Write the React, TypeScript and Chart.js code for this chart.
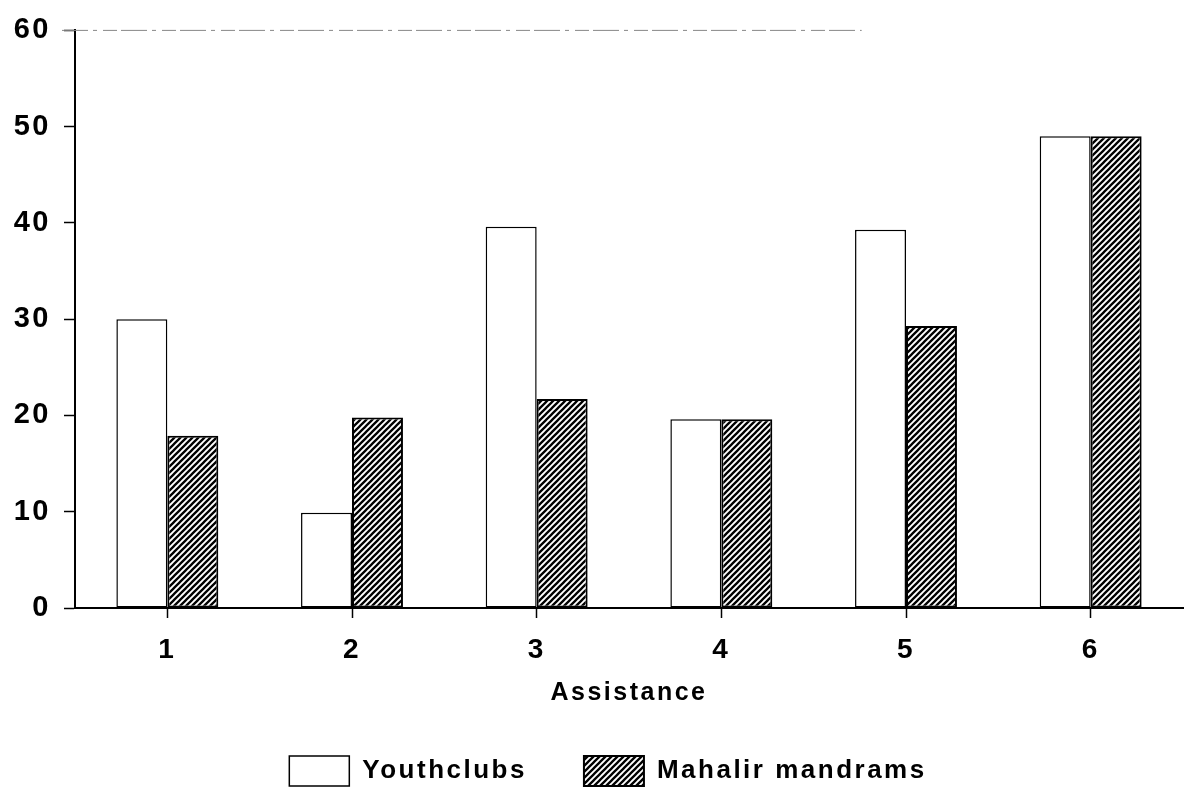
import React, { useEffect, useRef } from 'react';
import { Chart, registerables } from 'chart.js';

Chart.register(...registerables);

const categories = ['1', '2', '3', '4', '5', '6'];
const youthclubs = [30, 9.9, 39.6, 19.6, 39.3, 49];
const mahalirMandrams = [17.9, 19.8, 21.7, 19.6, 29.3, 49];
const yTicks = [0, 10, 20, 30, 40, 50, 60];
const seriesLabels = ['Youthclubs', 'Mahalir mandrams'];
const xTitle = 'Assistance';

const FONT = "'Liberation Sans', Arial, Helvetica, sans-serif";

function makeHatch(): CanvasPattern | string {
  const size = 6;
  const c = document.createElement('canvas');
  c.width = size;
  c.height = size;
  const g = c.getContext('2d');
  if (!g) return '#444';
  g.fillStyle = '#fff';
  g.fillRect(0, 0, size, size);
  g.strokeStyle = '#000';
  g.lineWidth = 2.3;
  g.beginPath();
  g.moveTo(0, size);
  g.lineTo(size, 0);
  g.moveTo(-size / 2, size / 2);
  g.lineTo(size / 2, -size / 2);
  g.moveTo(size / 2, size * 1.5);
  g.lineTo(size * 1.5, size / 2);
  g.stroke();
  return g.createPattern(c, 'repeat') || '#444';
}

const spacingPlugin = {
  id: 'letterSpacing',
  beforeLayout(chart: any) {
    chart.ctx.letterSpacing = '2.5px';
  },
  afterLayout(chart: any) {
    // shift the centred legend slightly left, as in the original layout
    if (chart.legend) chart.legend.right -= 42;
  },
  beforeDraw(chart: any) {
    chart.ctx.letterSpacing = '2.5px';
  },
};

const topLinePlugin = {
  id: 'topLine',
  afterDraw(chart: any) {
    const { ctx, chartArea, scales } = chart;
    const y = scales.y.getPixelForValue(yTicks[yTicks.length - 1]);
    ctx.save();
    ctx.strokeStyle = '#888';
    ctx.lineWidth = 1;
    ctx.setLineDash([26, 5, 4, 6, 14, 4]);
    ctx.beginPath();
    ctx.moveTo(chartArea.left - 13, y);
    ctx.lineTo(chartArea.left + (chartArea.right - chartArea.left) * 0.71, y);
    ctx.stroke();
    ctx.restore();
  },
};

export default function App() {
  const ref = useRef<HTMLCanvasElement | null>(null);

  useEffect(() => {
    if (!ref.current) return;
    const hatch = makeHatch();
    const chart = new Chart(ref.current, {
      type: 'bar',
      data: {
        labels: categories,
        datasets: [
          {
            label: seriesLabels[0],
            data: youthclubs,
            backgroundColor: '#ffffff',
            borderColor: '#000000',
            borderWidth: 1.5,
            borderSkipped: false,
            categoryPercentage: 0.552,
            barPercentage: 1.0,
          },
          {
            label: seriesLabels[1],
            data: mahalirMandrams,
            backgroundColor: hatch as any,
            borderColor: '#000000',
            borderWidth: 2,
            borderSkipped: false,
            categoryPercentage: 0.552,
            barPercentage: 1.0,
          },
        ],
      },
      options: {
        responsive: false,
        animation: false,
        devicePixelRatio: 1,
        layout: { padding: { top: 20, right: 1, left: 0, bottom: 0 } },
        plugins: {
          tooltip: { enabled: false },
          legend: {
            position: 'bottom',
            fullSize: false,
            maxHeight: 98,
            labels: {
              boxWidth: 60,
              boxHeight: 30,
              padding: 57,
              color: '#000',
              font: { family: FONT, size: 26, weight: 'bold' },
            },
          },
        },
        scales: {
          x: {
            afterFit(scale: any) {
              scale.height = 91;
            },
            grid: {
              display: true,
              drawOnChartArea: false,
              drawTicks: true,
              offset: false,
              tickLength: 10,
              tickColor: '#000',
              tickWidth: 1.5,
            },
            border: { display: true, color: '#000', width: 2 },
            ticks: {
              color: '#000',
              padding: 15,
              font: { family: FONT, size: 28, weight: 'bold' },
            },
            title: {
              display: true,
              text: xTitle,
              color: '#000',
              padding: { top: 0, bottom: 0 },
              font: { family: FONT, size: 25, weight: 'bold', lineHeight: 0.45 },
            },
          },
          y: {
            min: yTicks[0],
            max: yTicks[yTicks.length - 1],
            afterFit(scale: any) {
              scale.width = 75;
            },
            afterBuildTicks(scale: any) {
              scale.ticks = yTicks.map((v) => ({ value: v }));
            },
            grid: {
              display: true,
              drawOnChartArea: false,
              drawTicks: true,
              tickLength: 11,
              tickColor: '#000',
              tickWidth: 1.5,
            },
            border: { display: true, color: '#000', width: 2 },
            ticks: {
              color: '#000',
              padding: 13,
              font: { family: FONT, size: 29, weight: 'bold' },
            },
          },
        },
      },
      plugins: [spacingPlugin, topLinePlugin],
    } as any);
    return () => chart.destroy();
  }, []);

  return (
    <div style={{ position: 'fixed', left: 0, top: 0, width: 1184, height: 796, background: '#fff' }}>
      <canvas ref={ref} width={1184} height={796} style={{ display: 'block' }} />
    </div>
  );
}
